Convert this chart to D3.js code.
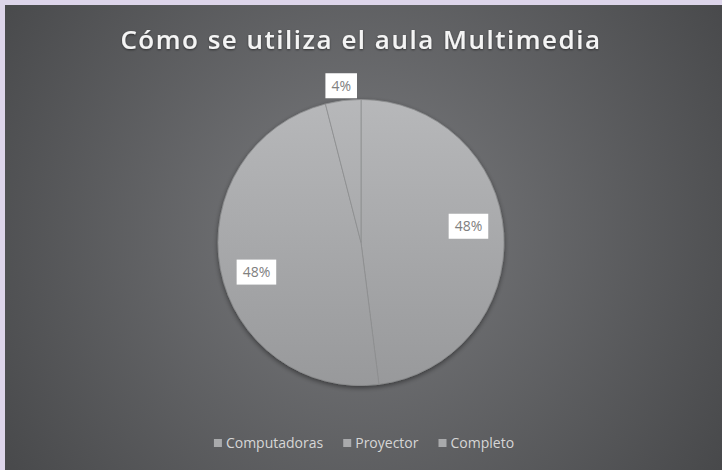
<!DOCTYPE html>
<html>
<head>
<meta charset="utf-8">
<script src="https://cdn.jsdelivr.net/npm/d3@7"></script>
<style>
  html, body { margin: 0; padding: 0; background: #ddd5ea; }
  svg { display: block; }
</style>
</head>
<body>
<div id="chart"></div>
<script>
// Data
const categories = ["Computadoras", "Proyector", "Completo"];
const values = [12, 12, 1];
const titleText = "Cómo se utiliza el aula Multimedia";

// Layout
const WIDTH = 722, HEIGHT = 470;
const FRAME = { x: 5, y: 5 };
const PIE = { cx: 361, cy: 242.5, r: 143 };
const LABEL_ROTATE = -5 * Math.PI / 180;   // Excel nudges inside labels a little

const svg = d3.select("#chart").append("svg")
    .attr("width", WIDTH)
    .attr("height", HEIGHT);

const defs = svg.append("defs");

// background radial gradient
const bg = defs.append("radialGradient")
    .attr("id", "bgGrad")
    .attr("gradientUnits", "userSpaceOnUse")
    .attr("cx", PIE.cx).attr("cy", 230).attr("r", 430);
bg.append("stop").attr("offset", "0%").attr("stop-color", "#7a7b7e");
bg.append("stop").attr("offset", "100%").attr("stop-color", "#48494b");

// pie fill gradient (pie group coords)
const pg = defs.append("linearGradient")
    .attr("id", "pieGrad")
    .attr("gradientUnits", "userSpaceOnUse")
    .attr("x1", 0).attr("y1", -PIE.r)
    .attr("x2", 0).attr("y2", PIE.r);
pg.append("stop").attr("offset", "0%").attr("stop-color", "#b7b8ba");
pg.append("stop").attr("offset", "100%").attr("stop-color", "#98999b");

const shadow = defs.append("filter").attr("id", "pieShadow")
    .attr("x", "-10%").attr("y", "-10%").attr("width", "120%").attr("height", "125%");
shadow.append("feDropShadow")
    .attr("dx", 0).attr("dy", 2).attr("stdDeviation", 2.5)
    .attr("flood-color", "#000").attr("flood-opacity", 0.45);

const tshadow = defs.append("filter").attr("id", "titleShadow");
tshadow.append("feDropShadow")
    .attr("dx", 0).attr("dy", 1).attr("stdDeviation", 1.2)
    .attr("flood-color", "#000").attr("flood-opacity", 0.5);

svg.append("rect")
    .attr("x", FRAME.x).attr("y", FRAME.y)
    .attr("width", WIDTH - FRAME.x).attr("height", HEIGHT - FRAME.y)
    .attr("fill", "url(#bgGrad)");

// Title
svg.append("text")
    .attr("x", PIE.cx)
    .attr("y", 49)
    .attr("text-anchor", "middle")
    .attr("font-family", "'Open Sans', sans-serif")
    .attr("font-weight", 600)
    .attr("font-size", "26px")
    .attr("letter-spacing", "1.5px")
    .attr("fill", "#f4f4f4")
    .attr("filter", "url(#titleShadow)")
    .text(titleText);

// Pie
const total = d3.sum(values);
const pie = d3.pie().sort(null).value(d => d)(values);
const arc = d3.arc().innerRadius(0).outerRadius(PIE.r);

const pieGroup = svg.append("g")
    .attr("transform", `translate(${PIE.cx},${PIE.cy})`);

pieGroup.append("g")
    .attr("filter", "url(#pieShadow)")
    .selectAll("path")
    .data(pie)
    .enter()
    .append("path")
    .attr("d", arc)
    .attr("fill", "url(#pieGrad)")
    .attr("stroke", "#8e8f91")
    .attr("stroke-width", 0.8);

// Data labels
const fmt = d3.format(".0%");
const labelArcIn = d3.arc().innerRadius(PIE.r * 0.76).outerRadius(PIE.r * 0.76);
const labelArcOut = d3.arc().innerRadius(PIE.r + 15).outerRadius(PIE.r + 15);

pie.forEach(d => {
    const share = d.value / total;
    const outside = share < 0.08;
    const pos = outside
        ? labelArcOut.centroid(d)
        : labelArcIn.centroid({ startAngle: d.startAngle + LABEL_ROTATE, endAngle: d.endAngle + LABEL_ROTATE });
    const g = pieGroup.append("g").attr("transform", `translate(${pos[0]},${pos[1]})`);
    const t = g.append("text")
        .attr("text-anchor", "middle")
        .attr("dy", "0.35em")
        .attr("font-family", "'Open Sans', sans-serif")
        .attr("font-size", "14px")
        .attr("fill", "#808080")
        .text(fmt(share));
    const w = t.node().getComputedTextLength();
    g.insert("rect", "text")
        .attr("x", -w / 2 - 6)
        .attr("y", -12.5)
        .attr("width", w + 12)
        .attr("height", 25)
        .attr("fill", "#ffffff");
});

// Legend
const legend = svg.append("g").attr("transform", "translate(0,443)");
const items = [];
categories.forEach(c => {
    const g = legend.append("g");
    g.append("rect")
        .attr("x", 0).attr("y", -4)
        .attr("width", 8).attr("height", 8)
        .attr("fill", "#a9aaac");
    const t = g.append("text")
        .attr("x", 12)
        .attr("dy", "0.35em")
        .attr("font-family", "'Open Sans', sans-serif")
        .attr("font-size", "14px")
        .attr("fill", "#d6d6d6")
        .text(c);
    items.push({ g, w: 12 + t.node().getComputedTextLength() });
});
const gap = 20;
const totalW = d3.sum(items, d => d.w) + gap * (items.length - 1);
let lx = PIE.cx + 3 - totalW / 2;
items.forEach(it => {
    it.g.attr("transform", `translate(${lx},0)`);
    lx += it.w + gap;
});
</script>
</body>
</html>
